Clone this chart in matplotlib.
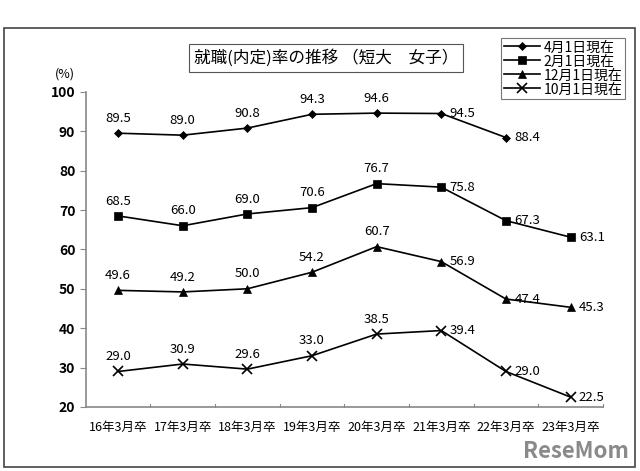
import matplotlib
matplotlib.use("Agg")
import matplotlib.pyplot as plt
from matplotlib.patches import Rectangle
import numpy as np

plt.rcParams['font.family'] = ['Noto Sans CJK JP', 'DejaVu Sans']

categories = ["16年3月卒", "17年3月卒", "18年3月卒", "19年3月卒",
              "20年3月卒", "21年3月卒", "22年3月卒", "23年3月卒"]
apr = [89.5, 89.0, 90.8, 94.3, 94.6, 94.5, 88.4]
feb = [68.5, 66.0, 69.0, 70.6, 76.7, 75.8, 67.3, 63.1]
dec = [49.6, 49.2, 50.0, 54.2, 60.7, 56.9, 47.4, 45.3]
oct_ = [29.0, 30.9, 29.6, 33.0, 38.5, 39.4, 29.0, 22.5]
series_names = ["4月1日現在", "2月1日現在", "12月1日現在", "10月1日現在"]
# index from which labels are placed to the right of the point
right_from = [5, 5, 5, 5]

fig = plt.figure(figsize=(6.4, 4.71), dpi=100)
ax = fig.add_axes([0.134, 0.136, 0.808, 0.669])

fig.patches.append(Rectangle((4/640, 4/471), 631/640, 439/471, transform=fig.transFigure,
                             fill=False, edgecolor='#444444', linewidth=1.2))

markers = ['D', 's', '^', 'x']
msizes = [4, 6, 6, 7]
data = [apr, feb, dec, oct_]
lines = []
for k, (vals, mk, ms, name) in enumerate(zip(data, markers, msizes, series_names)):
    x = np.arange(len(vals))
    ln, = ax.plot(x, vals, color='black', linewidth=1.2, marker=mk, markersize=ms,
                  markeredgewidth=1.2 if mk == 'x' else 0.5, label=name)
    lines.append(ln)
    for i, v in enumerate(vals):
        if i >= right_from[k]:
            ax.annotate(f"{v:.1f}", (i, v), xytext=(6, 0), textcoords='offset points',
                        ha='left', va='center', fontsize=9.5)
        else:
            ax.annotate(f"{v:.1f}", (i, v), xytext=(0, 6), textcoords='offset points',
                        ha='center', va='bottom', fontsize=9.5)

ax.set_xlim(-0.5, 7.5)
ax.set_ylim(20, 100)
ax.set_yticks(range(20, 101, 10))
ax.tick_params(axis='y', direction='out', length=4, labelsize=10, width=0.8, color='#888888')
for lab in ax.get_yticklabels():
    lab.set_fontweight('bold')
ax.set_xticks(np.arange(8))
ax.set_xticklabels(categories, fontsize=9)
ax.tick_params(axis='x', length=0, pad=10)
# bin boundary ticks pointing up
for b in np.arange(0.5, 7.6, 1.0):
    ax.plot([b, b], [20, 20.8], color='#888888', linewidth=0.8, clip_on=False)
for s in ['top', 'right']:
    ax.spines[s].set_visible(False)
for s in ['left', 'bottom']:
    ax.spines[s].set_color('#888888')
    ax.spines[s].set_linewidth(1.2)

ax.text(-0.04, 1.035, "(%)", transform=ax.transAxes, fontsize=9, ha='center', va='bottom')

fig.text(0.509, 0.877, "就職(内定)率の推移 （短大　女子）", fontsize=12, ha='center', va='center',
         bbox=dict(boxstyle='square,pad=0.3', facecolor='white', edgecolor='#555555', linewidth=0.8))

leg = fig.legend(handles=lines, loc='upper right', bbox_to_anchor=(0.988, 0.935), fontsize=10,
                 frameon=True, fancybox=False, edgecolor='#555555', handlelength=2.6,
                 borderpad=0.2, labelspacing=0.0, handletextpad=0.3)
leg.get_frame().set_linewidth(0.8)

fig.text(0.982, 0.018, "ReseMom", fontsize=16, fontweight='bold', color='#8a8a8a',
         ha='right', va='bottom')

fig.savefig("out.png", dpi=100)
